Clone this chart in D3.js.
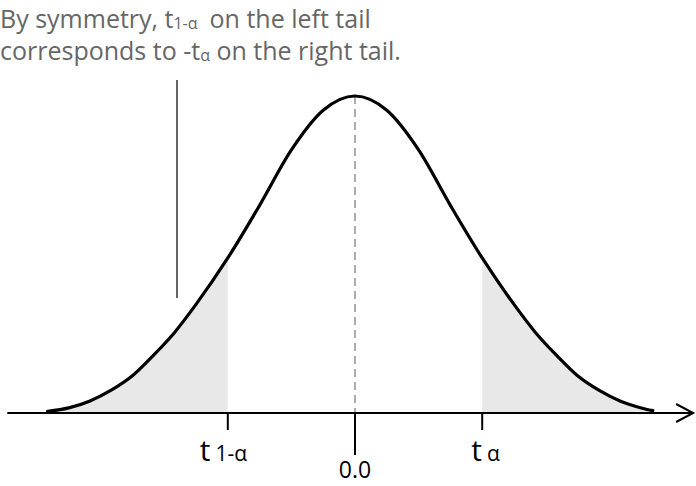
<!DOCTYPE html>
<html><head><meta charset="utf-8">
<script src="https://cdn.jsdelivr.net/npm/d3@7"></script>
<style>
html,body{margin:0;padding:0;background:#fff;}
svg{display:block;font-family:"Segoe UI","Open Sans","Noto Sans",sans-serif;}
</style></head>
<body><svg id="c" width="696" height="486"></svg>
<script>
// density curve samples (x in t units, y = density)
const curveX = [-2.9,-2.7,-2.5,-2.3,-2.1,-1.9,-1.7,-1.5,-1.2,-0.9,-0.6,-0.3,0,0.3,0.6,0.9,1.2,1.5,1.7,1.9,2.1,2.3,2.5,2.7,2.81];
const curveY = [0.002,0.0064,0.0152,0.0288,0.047,0.073,0.102,0.137,0.1956,0.262,0.332,0.382,0.4,0.382,0.332,0.262,0.1956,0.137,0.102,0.073,0.047,0.0288,0.0152,0.0064,0.003];
const tLeft = -1.2, tRight = 1.2;
const tickValues = [-1.2, 0, 1.2];
const tickLabels = [["t", "1-α"], ["0.0", ""], ["t", "α"]];
const axisExtent = [-3.28, 3.19];
const noteLines = [["By symmetry, t", "1-α", "on the left tail"], ["corresponds to -t", "α", " on the right tail."]];

const svg = d3.select("#c");
const x = d3.scaleLinear().domain([tLeft, tRight]).range([227.8, 482.2]);
const y = d3.scaleLinear().domain([0, 0.4]).range([413, 96]);
const pts = curveX.map((v, i) => ({x: v, y: curveY[i]}));

const area = d3.area().x(d => x(d.x)).y0(y(0)).y1(d => y(d.y)).curve(d3.curveMonotoneX);
const line = d3.line().x(d => x(d.x)).y(d => y(d.y)).curve(d3.curveMonotoneX);

svg.append("path").datum(pts.filter(d => d.x <= tLeft)).attr("d", area).attr("fill", "#e8e8e8");
svg.append("path").datum(pts.filter(d => d.x >= tRight)).attr("d", area).attr("fill", "#e8e8e8");

// dashed centre line
svg.append("line").attr("x1", x(0)).attr("x2", x(0)).attr("y1", y(0.4)).attr("y2", y(0))
  .attr("stroke", "#999").attr("stroke-width", 1.6).attr("stroke-dasharray", "8,5");

// axis
const ay = y(0);
svg.append("line").attr("x1", x(axisExtent[0])).attr("x2", x(axisExtent[1])).attr("y1", ay).attr("y2", ay)
  .attr("stroke", "#000").attr("stroke-width", 2);
const tip = x(axisExtent[1]);
svg.append("path").attr("d", `M${tip-17},${ay-9}L${tip},${ay}L${tip-17},${ay+9}`)
  .attr("fill", "none").attr("stroke", "#000").attr("stroke-width", 2);

// curve
svg.append("path").datum(pts).attr("d", line).attr("fill", "none").attr("stroke", "#000").attr("stroke-width", 3.2)
  .attr("stroke-linecap", "round");

// ticks
tickValues.forEach((v, i) => {
  const center = v === 0;
  svg.append("line").attr("x1", x(v)).attr("x2", x(v)).attr("y1", ay).attr("y2", center ? ay + 42 : ay + 17)
    .attr("stroke", "#000").attr("stroke-width", 2);
  const lab = tickLabels[i];
  if (center) {
    svg.append("text").attr("x", x(v)).attr("y", 478).attr("text-anchor", "middle")
      .attr("font-size", 23).attr("fill", "#000").text(lab[0]);
  } else {
    const t = svg.append("text").attr("y", 461).attr("fill", "#000");
    t.append("tspan").attr("font-size", 30).text(lab[0]);
    t.append("tspan").attr("font-size", 21).attr("dx", 5).text(lab[1]);
    t.attr("x", x(v) - (i === 0 ? 28 : 11));
  }
});

// annotation
noteLines.forEach((ln, i) => {
  const base = i === 0 ? 28 : 60;
  const note = svg.append("text").attr("fill", "#666").attr("font-size", 25).attr("x", 0).attr("y", base);
  note.append("tspan").text(ln[0]);
  note.append("tspan").attr("dy", 1).attr("font-size", 16).text(ln[1]);
  note.append("tspan").attr("dy", -1).attr("dx", i === 0 ? 12 : 0).text(ln[2]);
});
svg.append("line").attr("x1", 177).attr("x2", 177).attr("y1", 80).attr("y2", 298)
  .attr("stroke", "#666").attr("stroke-width", 2);
</script></body></html>
